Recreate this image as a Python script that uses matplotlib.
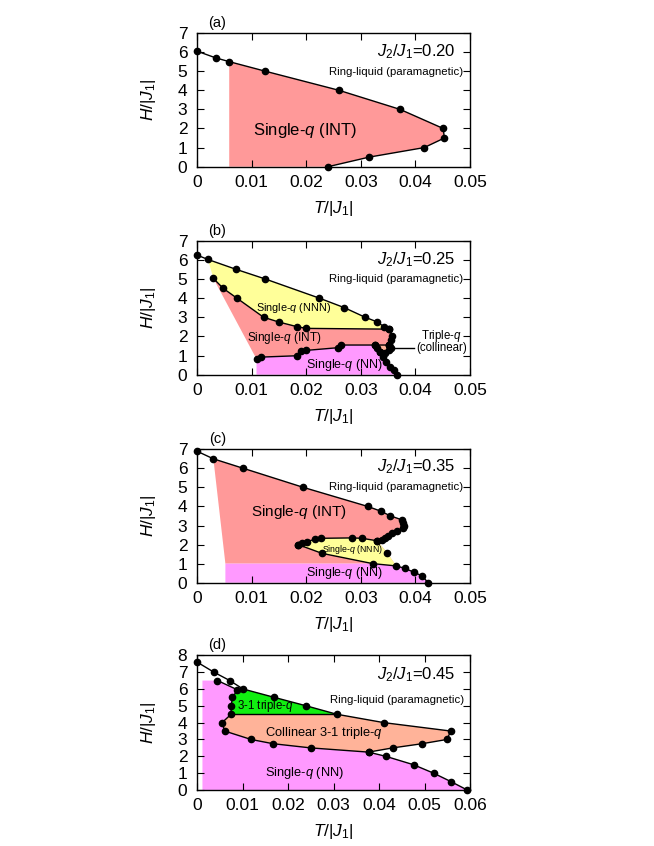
import matplotlib
matplotlib.use("Agg")
import matplotlib.pyplot as plt

plt.rcParams['font.family'] = ['Liberation Sans', 'DejaVu Sans']
plt.rcParams['mathtext.fontset'] = 'custom'
plt.rcParams['mathtext.rm'] = 'Liberation Sans'
plt.rcParams['mathtext.it'] = 'Liberation Sans:italic'
plt.rcParams['mathtext.bf'] = 'Liberation Sans:bold'

# ---------------- data ----------------
# panel (a) J2/J1 = 0.20
a_T = [0.0, 0.0034, 0.0059, 0.0125, 0.026, 0.0372, 0.0451, 0.0453, 0.0416, 0.0315, 0.024]
a_H = [6.05, 5.7, 5.5, 5.0, 4.0, 3.0, 2.0, 1.5, 1.0, 0.5, 0.0]

# panel (b) J2/J1 = 0.25
b_para_T = [0.0, 0.002, 0.0072, 0.0125, 0.0224, 0.027, 0.0308, 0.0329, 0.0343, 0.0352, 0.0357, 0.0355, 0.0352]
b_para_H = [6.25, 6.02, 5.5, 5.0, 4.0, 3.5, 3.0, 2.77, 2.5, 2.38, 2.04, 1.8, 1.55]
b_nnn_T = [0.003, 0.0048, 0.0073, 0.0122, 0.015, 0.0183, 0.020, 0.0352]
b_nnn_H = [5.03, 4.51, 4.0, 3.0, 2.75, 2.51, 2.42, 2.38]
b_int_T = [0.0109, 0.0118, 0.0183, 0.019, 0.020, 0.0258, 0.0264, 0.0326, 0.0352]
b_int_H = [0.82, 0.92, 0.99, 1.22, 1.27, 1.41, 1.55, 1.55, 1.55]
b_nnr_T = [0.0326, 0.0330, 0.0336, 0.0341, 0.0347, 0.0353, 0.0360, 0.0366]
b_nnr_H = [1.55, 1.38, 1.18, 0.94, 0.68, 0.42, 0.22, 0.0]
b_tri_T = [0.0352, 0.0356, 0.0352, 0.0345, 0.0336]
b_tri_H = [1.55, 1.42, 1.28, 1.15, 1.18]

# panel (c) J2/J1 = 0.35
c_para_T = [0.0, 0.003, 0.0085, 0.0195, 0.0313, 0.0337, 0.0353, 0.0375, 0.0378, 0.0380, 0.0378,
            0.0366, 0.0358, 0.0350, 0.0344, 0.0338, 0.0330]
c_para_H = [6.9, 6.5, 6.0, 5.0, 4.0, 3.75, 3.52, 3.3, 3.15, 2.95, 2.85, 2.73, 2.59, 2.45, 2.33, 2.24, 2.2]
c_top_T = [0.0185, 0.0192, 0.0201, 0.0216, 0.0228, 0.0283, 0.0302, 0.0330]
c_top_H = [2.0, 2.07, 2.15, 2.28, 2.33, 2.35, 2.33, 2.2]
c_right_T = [0.0330, 0.0348, 0.0365]
c_right_H = [2.2, 1.58, 0.88]
c_bot_T = [0.0185, 0.0229, 0.0322, 0.0365, 0.0381, 0.0398, 0.0413, 0.0423]
c_bot_H = [2.0, 1.54, 1.0, 0.88, 0.75, 0.54, 0.35, 0.0]
c_nn_left = 0.0052
c_nn_top = 1.0

# panel (d) J2/J1 = 0.45
d_para_T = [0.0, 0.0037, 0.0072, 0.0101, 0.017, 0.024, 0.0307, 0.0411, 0.0558, 0.0549, 0.0495,
            0.043, 0.0377, 0.0415, 0.0476, 0.052, 0.0558, 0.0594]
d_para_H = [7.6, 7.0, 6.5, 6.0, 5.5, 5.0, 4.5, 4.0, 3.5, 3.0, 2.75, 2.5, 2.25, 2.0, 1.5, 1.0, 0.5, 0.0]
d_sec_T = [0.0045, 0.0089, 0.0078, 0.0075, 0.0075, 0.0055, 0.0061, 0.0119, 0.0167, 0.025, 0.0377]
d_sec_H = [6.5, 5.95, 5.5, 5.0, 4.5, 4.0, 3.5, 3.0, 2.75, 2.5, 2.25]
d_nn_left = 0.0012
d_nn_top = 6.5

x_ticks_a = [0, 0.01, 0.02, 0.03, 0.04, 0.05]
x_labels_a = ['0', '0.01', '0.02', '0.03', '0.04', '0.05']
x_ticks_d = [0, 0.01, 0.02, 0.03, 0.04, 0.05, 0.06]
x_labels_d = ['0', '0.01', '0.02', '0.03', '0.04', '0.05', '0.06']

C_INT = '#ff9999'
C_NNN = '#ffff99'
C_NN = '#ff99ff'
C_GREEN = '#11ee11'
C_COL = '#ffb399'

# ---------------- figure ----------------
fig = plt.figure(figsize=(6.54, 8.46), dpi=100)
W, Hf = 654.0, 846.0
left = 197 / W
width = 273 / W

def make_ax(top_px, bot_px):
    return fig.add_axes([left, 1 - bot_px / Hf, width, (bot_px - top_px) / Hf])

def style(ax, label, xt, xl, xmax, ymax):
    ax.set_xlim(0, xmax)
    ax.set_ylim(0, ymax)
    ax.set_xticks(xt)
    ax.set_xticklabels(xl)
    ax.set_yticks(range(0, ymax + 1))
    ax.tick_params(direction='in', length=5, width=0.8, top=True, right=True,
                   labelsize=12.5, pad=6)
    ax.tick_params(axis='y', pad=7)
    for s in ax.spines.values():
        s.set_linewidth(1.0)
    ax.set_xlabel(r'$T/|J_1|$', fontsize=12.5)
    ax.set_ylabel(r'$H/|J_1|$', fontsize=12.5)
    hpx = ax.get_position().height * Hf
    ax.xaxis.set_label_coords(0.5, -32 / hpx)
    ax.yaxis.set_label_coords(-39 / 273, 0.5)
    ax.text(0.074, 1.0 + 10 / hpx, label, transform=ax.transAxes, fontsize=10.5,
            ha='center', va='center')

def line(ax, T, H, marker=True):
    ax.plot(T, H, '-', color='k', lw=1.0, marker='o' if marker else None, ms=4.5,
            clip_on=False, zorder=3)

# ---- (a)
ax = make_ax(33, 166.7)
style(ax, '(a)', x_ticks_a, x_labels_a, 0.05, 7)
ax.fill(a_T[2:] + [a_T[2]], a_H[2:] + [0.0], color=C_INT, lw=0, zorder=1)
line(ax, a_T, a_H)
ax.text(0.0473, 6.0, r'$J_2/J_1$=0.20', fontsize=12, ha='right', va='center')
ax.text(0.0488, 4.97, 'Ring-liquid (paramagnetic)', fontsize=8.2, ha='right', va='center')
ax.text(0.0198, 1.92, r'Single-$q$ (INT)', fontsize=12, ha='center', va='center')

# ---- (b)
ax = make_ax(240.7, 374.7)
style(ax, '(b)', x_ticks_a, x_labels_a, 0.05, 7)
# INT
ax.fill(b_nnn_T + b_para_T[10:] + b_int_T[::-1], b_nnn_H + b_para_H[10:] + b_int_H[::-1],
        color=C_INT, lw=0, zorder=1)
# NNN
ax.fill(b_para_T[1:10] + b_nnn_T[::-1], b_para_H[1:10] + b_nnn_H[::-1], color=C_NNN, lw=0, zorder=1)
# NN
ax.fill(b_int_T[:8] + b_nnr_T[1:] + [b_int_T[0]], b_int_H[:8] + b_nnr_H[1:] + [0.0],
        color=C_NN, lw=0, zorder=1)
# triple-q collinear
ax.fill([b_nnr_T[0]] + b_tri_T + b_nnr_T[2:0:-1], [b_nnr_H[0]] + b_tri_H + b_nnr_H[2:0:-1],
        color=C_COL, lw=0, zorder=1.5)
line(ax, b_para_T, b_para_H)
line(ax, b_nnn_T, b_nnn_H)
line(ax, b_int_T, b_int_H)
line(ax, b_nnr_T, b_nnr_H)
line(ax, b_tri_T, b_tri_H)
ax.plot([0.0397, 0.0356], [1.38, 1.38], color='k', lw=1.0, zorder=3)
ax.text(0.0473, 6.02, r'$J_2/J_1$=0.25', fontsize=12, ha='right', va='center')
ax.text(0.0488, 4.98, 'Ring-liquid (paramagnetic)', fontsize=8.2, ha='right', va='center')
ax.text(0.0177, 3.5, r'Single-$q$ (NNN)', fontsize=7.8, ha='center', va='center')
ax.text(0.0160, 1.93, r'Single-$q$ (INT)', fontsize=8.5, ha='center', va='center')
ax.text(0.0271, 0.5, r'Single-$q$ (NN)', fontsize=9, ha='center', va='center')
ax.text(0.0448, 2.03, r'Triple-$q$', fontsize=8.3, ha='center', va='center')
ax.text(0.0448, 1.37, '(collinear)', fontsize=8.3, ha='center', va='center')

# ---- (c)
ax = make_ax(449.3, 582.7)
style(ax, '(c)', x_ticks_a, x_labels_a, 0.05, 7)
ax.fill(c_para_T[1:] + c_right_T[1:] + [c_bot_T[2], c_nn_left],
        c_para_H[1:] + c_right_H[1:] + [c_nn_top, c_nn_top], color=C_INT, lw=0, zorder=1)
ax.fill(c_top_T + c_right_T[1:] + c_bot_T[3::-1], c_top_H + c_right_H[1:] + c_bot_H[3::-1],
        color=C_NNN, lw=0, zorder=1.2)
ax.fill([c_nn_left, c_nn_left] + c_bot_T[2:], [0.0, c_nn_top] + c_bot_H[2:],
        color=C_NN, lw=0, zorder=1.4)
line(ax, c_para_T, c_para_H)
line(ax, c_top_T, c_top_H)
line(ax, c_bot_T, c_bot_H)
ax.plot(c_right_T[1:2], c_right_H[1:2], 'o', color='k', ms=4.5, zorder=3)
ax.text(0.0473, 6.09, r'$J_2/J_1$=0.35', fontsize=12, ha='right', va='center')
ax.text(0.0488, 5.04, 'Ring-liquid (paramagnetic)', fontsize=8.2, ha='right', va='center')
ax.text(0.0186, 3.73, r'Single-$q$ (INT)', fontsize=11, ha='center', va='center')
ax.text(0.0284, 1.75, r'Single-$q$ (NNN)', fontsize=6.3, ha='center', va='center')
ax.text(0.0270, 0.52, r'Single-$q$ (NN)', fontsize=9, ha='center', va='center')

# ---- (d)
ax = make_ax(655.3, 790)
style(ax, '(d)', x_ticks_d, x_labels_d, 0.06, 8)
# pink NN
ax.fill([d_nn_left, d_nn_left] + d_sec_T + d_para_T[13:],
        [0.0, d_nn_top] + d_sec_H + d_para_H[13:], color=C_NN, lw=0, zorder=1)
# green 3-1 triple-q
ax.fill([d_sec_T[1]] + d_para_T[3:7] + d_sec_T[4:1:-1],
        [d_sec_H[1]] + d_para_H[3:7] + d_sec_H[4:1:-1], color=C_GREEN, lw=0, zorder=1)
# collinear
ax.fill(d_sec_T[4:5] + d_para_T[6:13] + d_sec_T[9:4:-1],
        d_sec_H[4:5] + d_para_H[6:13] + d_sec_H[9:4:-1], color=C_COL, lw=0, zorder=1)
line(ax, d_para_T, d_para_H)
line(ax, d_sec_T, d_sec_H)
ax.plot([d_sec_T[4], d_para_T[6]], [d_sec_H[4], d_para_H[6]], color='k', lw=1.0, zorder=3)
ax.text(0.0568, 6.87, r'$J_2/J_1$=0.45', fontsize=12, ha='right', va='center')
ax.text(0.0586, 5.35, 'Ring-liquid (paramagnetic)', fontsize=8.2, ha='right', va='center')
ax.text(0.0150, 4.99, r'3-1 triple-$q$', fontsize=8.3, ha='center', va='center')
ax.text(0.0278, 3.37, r'Collinear 3-1 triple-$q$', fontsize=9.3, ha='center', va='center')
ax.text(0.0236, 0.99, r'Single-$q$ (NN)', fontsize=9.3, ha='center', va='center')

fig.savefig('out.png', dpi=100)
